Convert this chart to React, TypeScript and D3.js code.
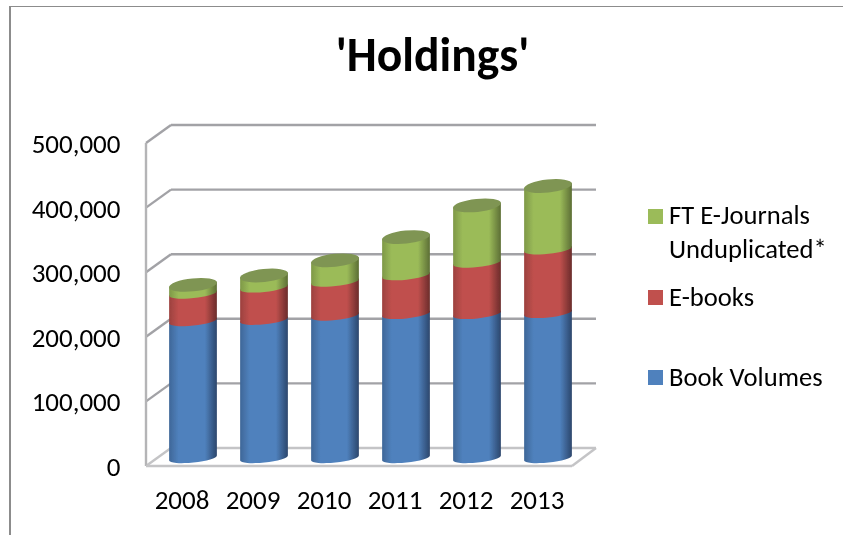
import React from "react";
import * as d3 from "d3";

const years = ["2008", "2009", "2010", "2011", "2012", "2013"];
const bookVolumes = [212000, 214000, 220500, 223000, 223000, 224500];
const eBooks = [42500, 50000, 52500, 60000, 79500, 98500];
const ftJournals = [13500, 18500, 33000, 59000, 88500, 98000];
const yTicks = [0, 100000, 200000, 300000, 400000, 500000];

const seriesList = [
  { id: "blue", values: bookVolumes, main: "#4f81bd", left: "#3f6798", right: "#2c466c" },
  { id: "red", values: eBooks, main: "#c0504d", left: "#9c413f", right: "#6a2c2b" },
  { id: "green", values: ftJournals, main: "#9bbb59", left: "#7e9848", right: "#5c6e35" },
];
const legendLabels = [["FT E-Journals", "Unduplicated*"], ["E-books"], ["Book Volumes"]];
const legendColors = ["#9bbb59", "#c0504d", "#4f81bd"];
const legendTops = [209, 290, 370];
const legendBaselines = [223.5, 305.5, 385.5];

const FONT = "Carlito, Lato, 'Open Sans', sans-serif";
const y = d3.scaleLinear().domain([0, 500000]).range([466, 143]);
const x = d3.scaleBand<string>().domain(years).range([157.5, 583.5]);
const depthX = 25;
const depthY = -18;
const barBaseShift = -8;
const rx = 24;
const ry = 6.5;
const ryBand = 4.5;
const tilt = -6;
const dx = rx * Math.cos((tilt * Math.PI) / 180);
const dy = rx * Math.sin((tilt * Math.PI) / 180);

function segment(cx: number, y0: number, y1: number) {
  const arc = `${rx} ${ryBand} ${tilt}`;
  return `M${cx - dx},${y0 - dy} A${arc} 0 0 ${cx + dx},${y0 + dy} L${cx + dx},${y1 + dy} A${arc} 0 0 ${cx - dx},${y1 - dy} Z`;
}

const gridColor = "#a2a2a6";

export default function App() {
  const xLeft = 146;
  const xRight = 572;
  let cum = years.map(() => 0);
  const segs = seriesList.map((s) => {
    const start = cum;
    const end = cum.map((c, i) => c + s.values[i]);
    cum = end;
    return { s, start, end };
  });
  const totals = cum;
  return (
    <svg
      width={843}
      height={535}
      style={{ position: "absolute", left: 0, top: 0, background: "#fff" }}
      fontFamily={FONT}
    >
      <defs>
        {seriesList.map((s) => (
          <linearGradient key={s.id} id={`g-${s.id}`} x1="0" x2="1" y1="0" y2="0">
            <stop offset="0" stopColor={s.left} />
            <stop offset="0.2" stopColor={s.main} />
            <stop offset="0.75" stopColor={s.main} />
            <stop offset="1" stopColor={s.right} />
          </linearGradient>
        ))}
        <filter id="soft" x="-5%" y="-5%" width="110%" height="110%">
          <feGaussianBlur stdDeviation="0.5" />
        </filter>
        <filter id="softText" x="-5%" y="-5%" width="110%" height="110%">
          <feGaussianBlur stdDeviation="0.3" />
        </filter>
      </defs>

      <line x1={9} x2={843} y1={6.5} y2={6.5} stroke="#8c8c8c" strokeWidth={1} />
      <line x1={10} x2={10} y1={6} y2={535} stroke="#8c8c8c" strokeWidth={2} />

      <g filter="url(#soft)" fill="none" stroke={gridColor} strokeWidth={2.4}>
        {yTicks.map((t) => (
          <g key={t} stroke={t === 0 ? "#c4c4c6" : gridColor}>
            <line x1={xLeft} y1={y(t)} x2={xLeft + depthX} y2={y(t) + depthY} />
            <line x1={xLeft + depthX} y1={y(t) + depthY} x2={xRight + depthX - 1} y2={y(t) + depthY} />
          </g>
        ))}
        <line x1={xLeft} x2={xLeft} y1={y(500000)} y2={y(0)} stroke="#b4b4b6" />
        <line x1={xLeft} x2={xRight} y1={y(0)} y2={y(0)} stroke="#c4c4c6" />
        <line x1={xRight} y1={y(0)} x2={xRight + depthX - 1} y2={y(0) + depthY} stroke="#c4c4c6" />
      </g>

      <g filter="url(#soft)">
        {segs.map(({ s, start, end }) =>
          years.map((yr, i) => (
            <path
              key={s.id + yr}
              d={segment(x(yr)! + x.bandwidth() / 2, y(start[i]) + barBaseShift, y(end[i]) + barBaseShift)}
              fill={`url(#g-${s.id})`}
            />
          ))
        )}
        {years.map((yr, i) => (
          <ellipse
            key={yr}
            cx={0}
            cy={0}
            rx={rx}
            ry={ry}
            transform={`translate(${x(yr)! + x.bandwidth() / 2},${y(totals[i]) + barBaseShift}) rotate(${tilt})`}
            fill="#7f9553"
          />
        ))}
      </g>

      <g filter="url(#softText)" fill="#000">
        <text x={432.5} y={71} textAnchor="middle" fontSize={47.5} fontWeight={700}>
          'Holdings'
        </text>
        {yTicks.map((t) => (
          <text key={t} x={120.5} y={y(t) + 10} textAnchor="end" fontSize={27}>
            {d3.format(",")(t)}
          </text>
        ))}
        {years.map((yr) => (
          <text key={yr} x={x(yr)! + x.bandwidth() / 2 - 11} y={509} fontSize={27} textAnchor="middle">
            {yr}
          </text>
        ))}
        {legendLabels.map((lines, k) =>
          lines.map((line, i) => (
            <text key={line} x={669} y={legendBaselines[k] + i * 34} fontSize={26.6}>
              {line}
            </text>
          ))
        )}
      </g>

      {legendColors.map((c, k) => (
        <rect key={c} x={648} y={legendTops[k]} width={15} height={15} fill={c} />
      ))}
    </svg>
  );
}
